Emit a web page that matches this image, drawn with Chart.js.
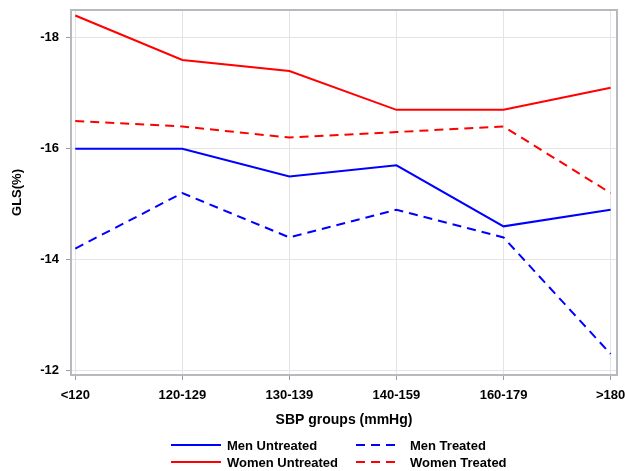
<!DOCTYPE html>
<html>
<head>
<meta charset="utf-8">
<script src="https://cdn.jsdelivr.net/npm/chart.js@4"></script>
<style>
  html, body { margin: 0; padding: 0; background: #fff; }
  #wrap { width: 625px; height: 471px; }
</style>
</head>
<body>
<div id="wrap"><canvas id="glsChart" width="625" height="471"></canvas></div>
<script>
// SBP groups on x, GLS (%) on y (axis reversed)
var categories = ['<120', '120-129', '130-139', '140-159', '160-179', '>180'];
var yTicks = [-18, -16, -14, -12];

var menUntreated   = [-16.0, -16.0, -15.5, -15.7, -14.6, -14.9];
var menTreated     = [-14.2, -15.2, -14.4, -14.9, -14.4, -12.3];
var womenUntreated = [-18.4, -17.6, -17.4, -16.7, -16.7, -17.1];
var womenTreated   = [-16.5, -16.4, -16.2, -16.3, -16.4, -15.2];

var FONT = 'Liberation Sans, Arial, Helvetica, sans-serif';
var BLUE = '#0000ff';
var RED = '#ff0000';
var DASH = [9, 6];

function toPoints(values) {
    var pts = [];
    for (var i = 0; i < values.length; i++) {
        pts.push({ x: i, y: values[i] });
    }
    return pts;
}

function makeSet(label, values, color, dashed) {
    return {
        label: label,
        data: toPoints(values),
        borderColor: color,
        backgroundColor: color,
        borderWidth: 2,
        borderDash: dashed ? DASH : [],
        pointRadius: 0,
        tension: 0,
        fill: false
    };
}

// no extra label padding, the layout padding decides the plot box
function noPad(scale) {
    scale.paddingTop = 0;
    scale.paddingBottom = 0;
    scale.paddingLeft = 0;
    scale.paddingRight = 0;
}

// frame around the plot area + custom two-column legend
var framePlugin = {
    id: 'frame',
    afterDraw: function(chart) {
        var ctx = chart.ctx;
        var a = chart.chartArea;
        ctx.save();
        ctx.strokeStyle = '#b6babe';
        ctx.lineWidth = 2;
        ctx.strokeRect(a.left, a.top, a.right - a.left, a.bottom - a.top);

        var sets = chart.data.datasets;
        // order: Men Untreated, Men Treated / Women Untreated, Women Treated
        var slots = [
            { ds: 0, x1: 171, x2: 221, tx: 227, y: 445 },
            { ds: 1, x1: 356, x2: 399, tx: 410, y: 445 },
            { ds: 2, x1: 171, x2: 221, tx: 227, y: 462 },
            { ds: 3, x1: 356, x2: 399, tx: 410, y: 462 }
        ];
        ctx.font = 'bold 13px ' + FONT;
        ctx.textBaseline = 'middle';
        ctx.textAlign = 'left';
        for (var i = 0; i < slots.length; i++) {
            var s = slots[i];
            var d = sets[s.ds];
            ctx.strokeStyle = d.borderColor;
            ctx.lineWidth = 2;
            ctx.setLineDash(d.borderDash || []);
            ctx.beginPath();
            ctx.moveTo(s.x1, s.y);
            ctx.lineTo(s.x2, s.y);
            ctx.stroke();
            ctx.setLineDash([]);
            ctx.fillStyle = '#000';
            ctx.fillText(d.label, s.tx, s.y + 1);
        }
        ctx.restore();
    }
};

var ctx = document.getElementById('glsChart').getContext('2d');
var chart = new Chart(ctx, {
    type: 'line',
    data: {
        datasets: [
            makeSet('Men Untreated', menUntreated, BLUE, false),
            makeSet('Men Treated', menTreated, BLUE, true),
            makeSet('Women Untreated', womenUntreated, RED, false),
            makeSet('Women Treated', womenTreated, RED, true)
        ]
    },
    options: {
        responsive: false,
        animation: false,
        layout: { padding: { left: 0, top: 10, right: 8, bottom: 0 } },
        plugins: {
            legend: { display: false },
            tooltip: { enabled: false }
        },
        scales: {
            x: {
                type: 'linear',
                min: -0.04,
                max: 5.06,
                afterBuildTicks: function(scale) {
                    scale.ticks = categories.map(function(c, i) { return { value: i }; });
                },
                afterFit: function(scale) { scale.height = 96; noPad(scale); },
                grid: { color: '#e4e4e4', lineWidth: 1, tickLength: 5, tickColor: '#9a9ea2' },
                border: { display: false },
                ticks: {
                    color: '#000',
                    padding: 8,
                    maxRotation: 0,
                    autoSkip: false,
                    font: { family: FONT, size: 13, weight: 'bold' },
                    callback: function(value) { return categories[value]; }
                },
                title: {
                    display: true,
                    text: 'SBP groups (mmHg)',
                    color: '#000',
                    font: { family: FONT, size: 14, weight: 'bold' },
                    padding: { top: 0, bottom: 42 }
                }
            },
            y: {
                reverse: true,
                min: -18.5,
                max: -11.92,
                afterBuildTicks: function(scale) {
                    scale.ticks = yTicks.map(function(v) { return { value: v }; });
                },
                afterFit: function(scale) { scale.width = 71; noPad(scale); },
                grid: { color: '#e4e4e4', lineWidth: 1, tickLength: 5, tickColor: '#9a9ea2' },
                border: { display: false },
                ticks: {
                    color: '#000',
                    padding: 7,
                    font: { family: FONT, size: 13, weight: 'bold' }
                },
                title: {
                    display: true,
                    text: 'GLS(%)',
                    color: '#000',
                    font: { family: FONT, size: 13, weight: 'bold' },
                    padding: { top: 10, bottom: 0 }
                }
            }
        }
    },
    plugins: [framePlugin]
});
</script>
</body>
</html>
